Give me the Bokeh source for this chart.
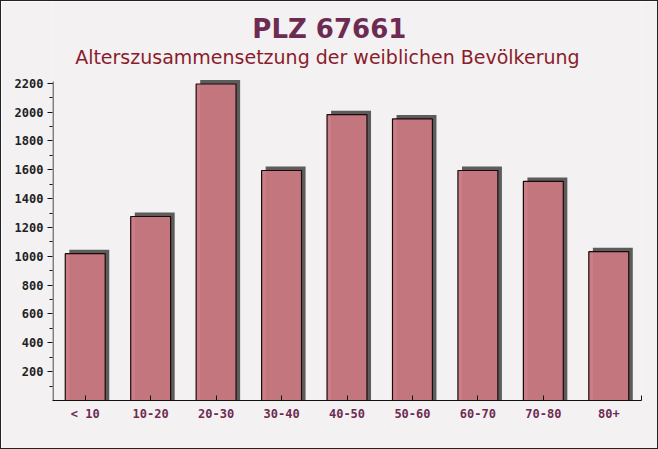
from bokeh.plotting import figure
from bokeh.models import Range1d, FixedTicker, Label
from bokeh.embed import file_html
from bokeh.resources import INLINE

categories = ["< 10", "10-20", "20-30", "30-40", "40-50", "50-60", "60-70", "70-80", "80+"]
values = [1018, 1276, 2195, 1595, 1983, 1953, 1595, 1519, 1032]
y_ticks = [200, 400, 600, 800, 1000, 1200, 1400, 1600, 1800, 2000, 2200]
title_text = "PLZ 67661"
subtitle_text = "Alterszusammensetzung der weiblichen Bevölkerung"

xs = list(range(len(categories)))
xc = [i + 0.5 for i in xs]

# the frame reaches the top of the canvas so the titles can sit inside it
axis_top = 2212
y_end = 2767

p = figure(width=658, height=449, output_backend="svg", toolbar_location=None,
           x_range=Range1d(0, len(categories)), y_range=Range1d(0, y_end),
           min_border_left=51, min_border_right=18, min_border_bottom=50, min_border_top=0)

p.background_fill_color = "#f4f1f3"
p.border_fill_color = "#f4f1f3"
p.outline_line_color = None
p.grid.visible = False
p.styles = {"border": "1px solid #222222", "box-sizing": "border-box"}

# titles
p.add_layout(Label(x=4.23, y=2574, text=title_text, text_align="center",
                   text_baseline="alphabetic", text_font="DejaVu Sans",
                   text_font_size="26px", text_font_style="bold", text_color="#6e2b52"))
p.add_layout(Label(x=4.2, y=2379, text=subtitle_text, text_align="center",
                   text_baseline="alphabetic", text_font="DejaVu Sans",
                   text_font_size="19px", text_color="#8a1c2b"))

# shadow bars
shadow_dx = 0.062
shadow_dy = 27
p.vbar(x=[v + shadow_dx for v in xc], top=[v + shadow_dy for v in values], bottom=0, width=0.61,
       fill_color="#5c5c5c", line_color=None)
p.vbar(x=xc, top=values, width=0.61, fill_color="#c8777e", fill_alpha=0.95,
       line_color="#1a0a0a", line_width=1.2)

# y axis line only up to the top tick region
p.segment(x0=[0.008], y0=[0], x1=[0.008], y1=[axis_top], line_color="#111111", line_width=1)

# axes
xa = p.xaxis[0]
xa.ticker = FixedTicker(ticks=xc, minor_ticks=[i + 0.5 for i in xs][:-1] + [len(categories)])
xa.major_label_overrides = {x: c for x, c in zip(xc, categories)}
xa.major_tick_out = 0
xa.major_tick_in = 0
xa.minor_tick_in = 5
xa.minor_tick_out = 0
xa.axis_line_color = "#111111"
xa.minor_tick_line_color = "#111111"
xa.major_label_text_font = "DejaVu Sans Mono"
xa.major_label_text_font_size = "12px"
xa.major_label_text_font_style = "bold"
xa.major_label_text_color = "#6e2b52"
xa.major_label_standoff = 6

ya = p.yaxis[0]
ya.ticker = FixedTicker(ticks=y_ticks, minor_ticks=[t - 100 for t in y_ticks] + [2200])
ya.major_tick_out = 5
ya.major_tick_in = 0
ya.minor_tick_out = 3
ya.minor_tick_in = 0
ya.axis_line_color = None
ya.major_tick_line_color = "#111111"
ya.minor_tick_line_color = "#111111"
ya.major_label_text_font = "DejaVu Sans Mono"
ya.major_label_text_font_size = "12px"
ya.major_label_text_font_style = "bold"
ya.major_label_text_color = "#222222"
ya.major_label_standoff = 4

open("out.html", "w").write(file_html(p, INLINE))
